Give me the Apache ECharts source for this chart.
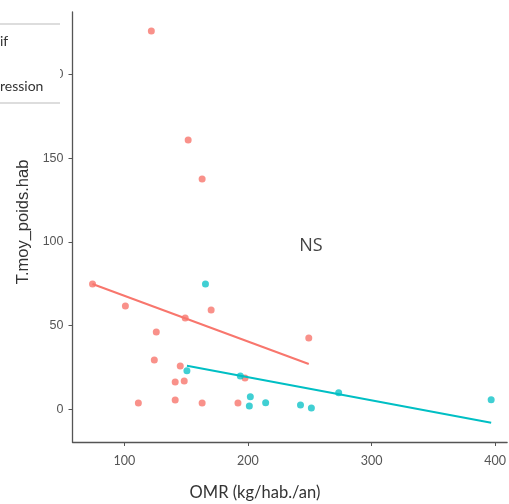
<!DOCTYPE html>
<html><head><meta charset="utf-8">
<script src="https://cdn.jsdelivr.net/npm/echarts@6/dist/echarts.min.js"></script>
<style>html,body{margin:0;padding:0;background:#fff}#c{width:509px;height:504px}</style>
</head><body><div id="c"></div>
<script>
// Data
const redX = [121.8,151.6,162.9,74.2,100.8,170.2,149.2,125.8,249.2,124.2,145.2,148.4,141.1,197.6,111.3,141.1,162.9,191.9];
const redY = [226,160.9,137.6,74.8,61.6,59.2,54.4,46.1,42.5,29.3,25.7,16.7,16.1,18.5,3.6,5.4,3.6,3.6];
const cyanX = [165.6,150.6,193.8,201.9,201.1,214.3,242.5,251.3,273.4,396.8];
const cyanY = [74.8,22.9,19.7,7.4,1.8,3.8,2.4,0.6,9.8,5.6];
const redFitX = [74.2,249.2];
const redFitY = [74.8,26.9];
const cyanFitX = [150.6,396.8];
const cyanFitY = [25.9,-8.2];
const xTicks = [100,200,300,400];
const yTicks = [0,50,100,150,200];
const legendLabels = ["if","ression"];

const zip = (a,b)=>a.map((v,i)=>[v,b[i]]);
const RED = '#F8766D', CYAN = '#00BFC4';
const font = 'Lato, "Open Sans", sans-serif';
const arial = '"Liberation Sans", Arial, sans-serif';
const chart = echarts.init(document.getElementById('c'));
chart.setOption({
  animation:false,
  grid:{left:72.5,right:0,top:12,bottom:62},
  xAxis:{type:'value',min:58,max:409.7,
    axisLine:{onZero:false,lineStyle:{color:'#555',width:1.3}},
    axisTick:{show:true,length:4,customValues:xTicks,lineStyle:{color:'#555'}},
    axisLabel:{customValues:xTicks,color:'#555',fontSize:12.5,fontFamily:font,margin:12},
    splitLine:{show:false}},
  yAxis:{type:'value',min:-19.7,max:237.4,
    axisLine:{show:true,onZero:false,lineStyle:{color:'#555',width:1.3}},
    axisTick:{show:true,length:4,customValues:yTicks,lineStyle:{color:'#555'}},
    axisLabel:{customValues:yTicks,color:'#555',fontSize:12.5,fontFamily:arial,margin:9},
    splitLine:{show:false}},
  series:[
    {type:'scatter',data:zip(redX,redY),symbolSize:7,itemStyle:{color:RED,opacity:0.8},z:2},
    {type:'scatter',data:zip(cyanX,cyanY),symbolSize:7,itemStyle:{color:CYAN,opacity:0.75},z:2},
    {type:'line',data:zip(redFitX,redFitY),showSymbol:false,lineStyle:{color:RED,width:2},z:3},
    {type:'line',data:zip(cyanFitX,cyanFitY),showSymbol:false,lineStyle:{color:CYAN,width:2},z:3}
  ],
  graphic:[
    {type:'rect',shape:{x:0,y:24,width:60,height:79},style:{fill:'#fff'},z:100},
    {type:'line',shape:{x1:0,y1:24,x2:60,y2:24},style:{stroke:'#bbb',lineWidth:1.2},z:101},
    {type:'line',shape:{x1:0,y1:103,x2:60,y2:103},style:{stroke:'#bbb',lineWidth:1.2},z:101},
    {type:'text',x:0,y:41,style:{text:legendLabels[0],fontSize:14,fill:'#333',fontFamily:font,verticalAlign:'middle'},z:102},
    {type:'text',x:0,y:86,style:{text:legendLabels[1],fontSize:14,fill:'#333',fontFamily:font,verticalAlign:'middle'},z:102},
    {type:'text',x:311,y:246,style:{text:'NS',fontSize:18,fill:'#444',fontFamily:'"Open Sans", sans-serif',align:'center',verticalAlign:'middle'},z:102},
    {type:'text',x:255,y:493,style:{text:'OMR (kg/hab./an)',fontSize:16.5,fill:'#333',fontFamily:font,align:'center',verticalAlign:'middle'},z:102},
    {type:'text',x:23,y:222,rotation:Math.PI/2,style:{text:'T.moy_poids.hab',fontSize:16.5,fill:'#333',fontFamily:arial,align:'center',verticalAlign:'middle'},z:102}
  ]
});
</script></body></html>
